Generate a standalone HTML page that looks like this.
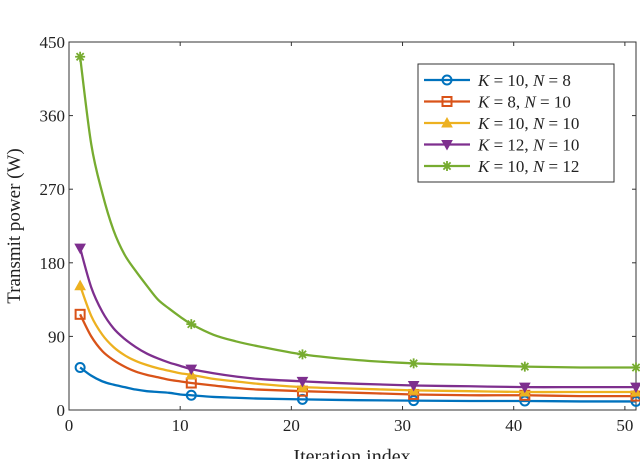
<!DOCTYPE html>
<html><head><meta charset="utf-8"><style>
body{margin:0;background:#fff;width:640px;height:459px;overflow:hidden}
svg{font-family:"Liberation Serif",serif}
</style></head><body>
<svg id="c" width="640" height="459"></svg>
<script>
const iters=[1,2,3,4,5,6,7,8,9,10,11,13,15,17,21,26,31,36,41,46,51];
const sGreen=[432,325,265,220,190,170,152,135,124,114,105,92,84,78,68,61,57,55,53,52,52];
const sPurple=[198,150,120,100,87,77,69,63,58,54,50,45,41,38,35,32,30,29,28,28,28];
const sYellow=[152,115,92,77,67,60,55,51,48,45,43,38,35,32,28,26,24,23,22,22,22];
const sOrange=[117,90,72,61,53,47,43,40,37,35,33,30,27,25,23,21,19,18,18,17,17];
const sBlue=[52,42,35,31,28,25,23,22,21,19,18,16,15,14,13,12,11.5,11,11,10.5,10.5];
const xTicks=[0,10,20,30,40,50];
const yTicks=[0,90,180,270,360,450];
const legendK=["10","8","10","12","10"];
const legendN=["8","10","10","10","12"];
const X0=69,X1=636,Y0=410,Y1=42;
const xs=v=>X0+(v-0)*(X1-X0)/51, ys=v=>Y0-(v/450)*(Y0-Y1);
const svg=document.getElementById('c');const NS="http://www.w3.org/2000/svg";
function mk(t,a,p){const e=document.createElementNS(NS,t);for(const k in a)e.setAttribute(k,a[k]);(p||svg).appendChild(e);return e;}
const series=[
 {d:sBlue,c:"#0072BD",m:"circle"},{d:sOrange,c:"#D95319",m:"square"},
 {d:sYellow,c:"#EDB120",m:"tri"},{d:sPurple,c:"#7E2F8E",m:"tridown"},{d:sGreen,c:"#77AC30",m:"star"}];
function marker(type,x,y,c,g){
 let e;
 if(type==="circle")e=mk('circle',{cx:x,cy:y,r:4.5,fill:'none',stroke:c,'stroke-width':2},g);
 else if(type==="square")e=mk('rect',{x:x-4.5,y:y-4.5,width:9,height:9,fill:'none',stroke:c,'stroke-width':2},g);
 else if(type==="tri")e=mk('polygon',{points:`${x},${y-5} ${x-5},${y+4} ${x+5},${y+4}`,fill:c,stroke:c},g);
 else if(type==="tridown")e=mk('polygon',{points:`${x},${y+5} ${x-5},${y-4} ${x+5},${y-4}`,fill:c,stroke:c},g);
 else {e=mk('path',{d:`M${x-5},${y}H${x+5}M${x},${y-5}V${y+5}M${x-3.6},${y-3.6}L${x+3.6},${y+3.6}M${x-3.6},${y+3.6}L${x+3.6},${y-3.6}`,stroke:c,'stroke-width':1.8},g);}
 
 
}
const ax=mk('rect',{x:X0,y:Y1,width:X1-X0,height:Y0-Y1,fill:'none',stroke:'#333','stroke-width':1});

xTicks.forEach(t=>{const x=xs(t);
 mk('line',{x1:x,x2:x,y1:Y0,y2:Y0-4,stroke:'#333'});mk('line',{x1:x,x2:x,y1:Y1,y2:Y1+4,stroke:'#333'});
 const tx=mk('text',{x:x,y:Y0+21,'text-anchor':'middle','font-size':17,fill:'#222'});tx.textContent=t;
 });
yTicks.forEach(t=>{const y=ys(t);
 mk('line',{x1:X0,x2:X0+4,y1:y,y2:y,stroke:'#333'});mk('line',{x1:X1,x2:X1-4,y1:y,y2:y,stroke:'#333'});
 const tx=mk('text',{x:X0-4,y:y+6,'text-anchor':'end','font-size':17,fill:'#222'});tx.textContent=t;
 });
const yl=mk('text',{x:0,y:0,transform:'translate(20,226) rotate(-90)','text-anchor':'middle','font-size':19,fill:'#222'});yl.textContent="Transmit power (W)";

const xl=mk('text',{x:352,y:463,'text-anchor':'middle','font-size':20,fill:'#222'});xl.textContent="Iteration index";

series.forEach((s,i)=>{
 const g=mk('g',{});
 const pts=iters.map((it,j)=>[xs(it),ys(s.d[j])]);
 let d=`M${pts[0][0]},${pts[0][1]}`;
 for(let j=0;j<pts.length-1;j++){const p0=pts[Math.max(0,j-1)],p1=pts[j],p2=pts[j+1],p3=pts[Math.min(pts.length-1,j+2)];
  d+=`C${p1[0]+(p2[0]-p0[0])/6},${p1[1]+(p2[1]-p0[1])/6} ${p2[0]-(p3[0]-p1[0])/6},${p2[1]-(p3[1]-p1[1])/6} ${p2[0]},${p2[1]}`;}
 const pl=mk('path',{d:d,fill:'none',stroke:s.c,'stroke-width':2.3},g);
 
 iters.forEach((it,j)=>{if((it-1)%10===0)marker(s.m,xs(it),ys(s.d[j]),s.c,g);});
});
const lg=mk('g',{});
mk('rect',{x:418,y:64,width:196,height:118,fill:'#fff',stroke:'#333'},lg);
series.forEach((s,i)=>{const y=80+i*21.5;
 const le=mk('g',{},lg);
 mk('line',{x1:424,x2:470,y1:y,y2:y,stroke:s.c,'stroke-width':2.3},le);marker(s.m,447,y,s.c,le);
 const t=mk('text',{x:478,y:y+6,'font-size':17,fill:'#222'},le);
 t.innerHTML=`<tspan font-style="italic">K</tspan> = ${legendK[i]}, <tspan font-style="italic">N</tspan> = ${legendN[i]}`;});
</script>
</body></html>
